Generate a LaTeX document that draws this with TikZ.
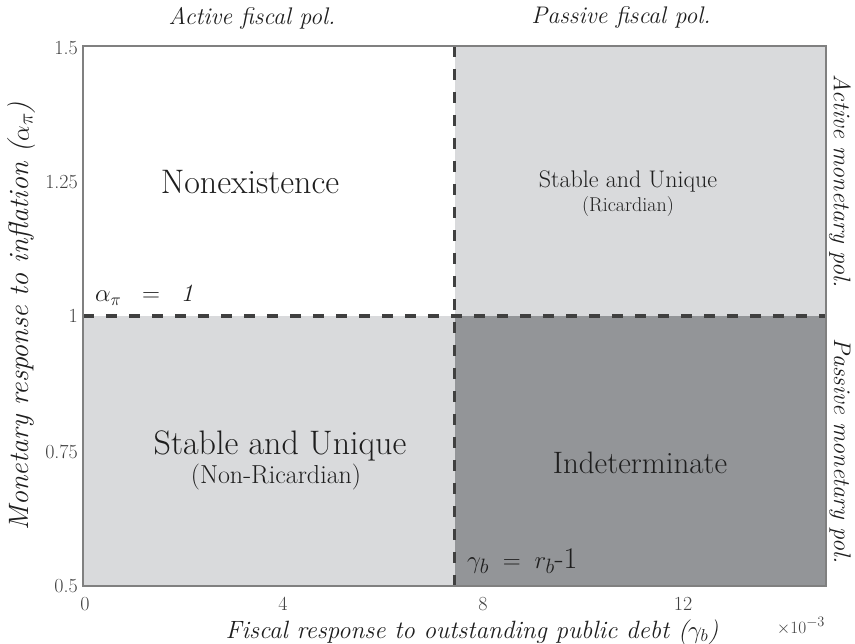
\documentclass[tikz,border=0pt]{standalone}
\usepackage{amsmath}
\usetikzlibrary{calc}
\definecolor{lightreg}{RGB}{217,218,220}
\definecolor{darkreg}{RGB}{147,149,152}
\definecolor{dashcol}{RGB}{64,64,64}
\definecolor{framecol}{RGB}{128,128,128}
\definecolor{txtcol}{RGB}{30,30,30}
\tikzset{
  bigregion/.style={font=\fontsize{34}{40}\selectfont, text=txtcol, inner sep=0pt},
  midregion/.style={font=\fontsize{31}{36}\selectfont, text=txtcol, inner sep=0pt},
  smallregion/.style={font=\fontsize{24}{28}\selectfont, text=txtcol, inner sep=0pt},
  bigsub/.style={font=\fontsize{26}{30}\selectfont, text=txtcol, inner sep=0pt},
  smallsub/.style={font=\fontsize{20}{24}\selectfont, text=txtcol, inner sep=0pt},
  policylabel/.style={font=\fontsize{24}{28}\selectfont\itshape, text=txtcol, inner sep=0pt},
  ylabelstyle/.style={font=\fontsize{28}{32}\selectfont\itshape, text=txtcol, inner sep=0pt},
  xlabelstyle/.style={font=\fontsize{25}{29}\selectfont\itshape, text=txtcol, inner sep=0pt},
  ticklabel/.style={font=\fontsize{20}{24}\selectfont, text=txtcol!85, inner sep=0pt},
  multlabel/.style={font=\fontsize{19}{22}\selectfont, text=txtcol!85, inner sep=0pt},
  boundary/.style={dashcol, line width=3.2pt, dash pattern=on 11pt off 12pt},
  eqlabel/.style={font=\fontsize{27}{32}\selectfont, text=txtcol, inner sep=0pt, anchor=base west},
  eqlabelb/.style={font=\fontsize{30}{34}\selectfont, text=txtcol, inner sep=0pt, anchor=base west},
}
\begin{document}
\begin{tikzpicture}[x=1pt,y=-1pt]
\useasboundingbox (0,0) rectangle (855,644);
% plot corners
\coordinate (TL) at (83,46);
\coordinate (TR) at (826,46);
\coordinate (BL) at (83,586);
\coordinate (BR) at (826,586);
\coordinate (TM) at (454.5,46);
\coordinate (BM) at (454.5,586);
\coordinate (LM) at (83,316);
\coordinate (RM) at (826,316);
\coordinate (C) at (454.5,316);
% regions
\fill[white] (TL) rectangle (C);
\fill[lightreg] (TM) rectangle (RM);
\fill[lightreg] (LM) rectangle (BM);
\fill[darkreg] (C) rectangle (BR);
% boundaries
\draw[boundary] (LM) -- (RM);
\draw[boundary] (TM) -- (BM);
% frame
\draw[framecol, line width=1.6pt] (TL) rectangle (BR);
% region labels
\node[bigregion] (nonex) at (250,182) {Nonexistence};
\node[smallregion] (ric) at (628,181) {Stable and Unique};
\node[smallsub] (ricsub) at (628,207) {(Ricardian)};
\node[bigregion] (nric) at (280,446) {Stable and Unique};
\node[bigsub] (nricsub) at (276,477) {(Non-Ricardian)};
\node[midregion] (indet) at (640,463) {Indeterminate};
% boundary labels
\node[eqlabel] (alab) at (95,302) {$\alpha_\pi\;\;=\;\;\mathit{1}$};
\node[eqlabelb] (glab) at (467,568) {$\gamma_b\;=\;r_b$-1};
% policy labels
\node[policylabel] (afp) at (252,18) {Active fiscal pol.};
\node[policylabel] (pfp) at (621,18) {Passive fiscal pol.};
\node[policylabel, rotate=-90] (amp) at (840,181) {Active monetary pol.};
\node[policylabel, rotate=-90] (pmp) at (840,451) {Passive monetary pol.};
% axis labels
\node[ylabelstyle, rotate=90] (ylab) at (22,316) {Monetary response to inflation ($\alpha_\pi$)};
\node[xlabelstyle] (xlab) at (472,632) {Fiscal response to outstanding public debt ($\gamma_b$)};
\node[multlabel] (mult) at (801,626) {$\times10^{-3}$};
% y ticks
\node[ticklabel, anchor=east] (y15) at (78,48) {1.5};
\node[ticklabel, anchor=east] (y125) at (78,182) {1.25};
\node[ticklabel, anchor=east] (y1) at (78,316) {1};
\node[ticklabel, anchor=east] (y075) at (78,452) {0.75};
\node[ticklabel, anchor=east] (y05) at (78,586) {0.5};
% x ticks
\node[ticklabel] (x0) at (85,604) {0};
\node[ticklabel] (x4) at (283,604) {4};
\node[ticklabel] (x8) at (483,604) {8};
\node[ticklabel] (x12) at (683,604) {12};
\end{tikzpicture}
\end{document}
